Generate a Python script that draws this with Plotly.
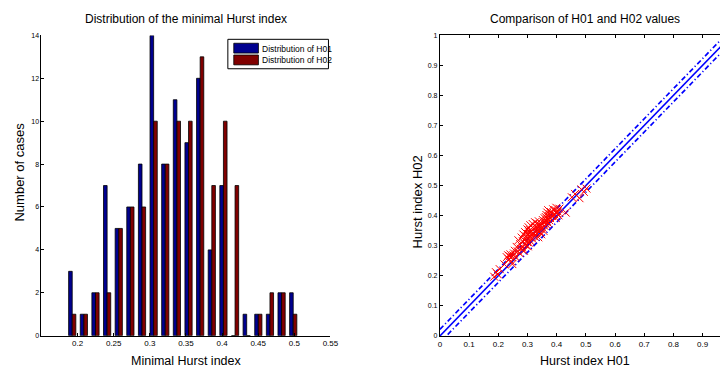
import plotly.graph_objects as go

# ---------------- data ----------------
bin_centers = [0.1926, 0.2087, 0.2248, 0.2409, 0.2570, 0.2731, 0.2892, 0.3053,
               0.3214, 0.3375, 0.3536, 0.3697, 0.3858, 0.4019, 0.4180, 0.4341,
               0.4502, 0.4663, 0.4824, 0.4985]
counts_h01 = [3, 1, 2, 7, 5, 6, 8, 14, 8, 11, 9, 12, 4, 7, 0, 1, 1, 1, 2, 2]
counts_h02 = [1, 1, 2, 2, 5, 6, 6, 10, 8, 10, 10, 13, 7, 10, 7, 0, 1, 2, 2, 1]

h01 = [0.186, 0.192, 0.198, 0.205, 0.221, 0.229,
       0.234, 0.236, 0.239, 0.242, 0.244, 0.246, 0.248,
       0.251, 0.254, 0.257, 0.260, 0.263,
       0.267, 0.269, 0.272, 0.275, 0.277, 0.280,
       0.282, 0.284, 0.286, 0.288, 0.290, 0.292, 0.294, 0.296,
       0.298, 0.299, 0.300, 0.301, 0.302, 0.303, 0.304, 0.305, 0.306, 0.307, 0.308, 0.309, 0.310, 0.312,
       0.314, 0.316, 0.318, 0.320, 0.322, 0.324, 0.326, 0.328,
       0.330, 0.331, 0.333, 0.334, 0.336, 0.337, 0.339, 0.340, 0.341, 0.342, 0.344,
       0.347, 0.349, 0.351, 0.353, 0.355, 0.356, 0.358, 0.359, 0.361,
       0.363, 0.364, 0.365, 0.366, 0.368, 0.369, 0.370, 0.371, 0.373, 0.374, 0.376, 0.377,
       0.380, 0.384, 0.388, 0.392,
       0.395, 0.397, 0.399, 0.401, 0.403, 0.406, 0.409,
       0.431, 0.452, 0.463, 0.478, 0.485, 0.493, 0.502]
h02 = [0.197, 0.212, 0.205, 0.222, 0.238, 0.262,
       0.268, 0.255, 0.265, 0.271, 0.248, 0.262, 0.239,
       0.268, 0.274, 0.283, 0.262, 0.296,
       0.281, 0.318, 0.276, 0.305, 0.290, 0.327,
       0.294, 0.315, 0.337, 0.283, 0.306, 0.345, 0.322, 0.300,
       0.331, 0.312, 0.354, 0.298, 0.339, 0.322, 0.361, 0.310, 0.344, 0.329, 0.352, 0.316, 0.368, 0.335,
       0.347, 0.324, 0.372, 0.339, 0.356, 0.331, 0.378, 0.345,
       0.362, 0.341, 0.374, 0.350, 0.358, 0.328, 0.381, 0.366, 0.347, 0.370, 0.356,
       0.338, 0.372, 0.360, 0.385, 0.349, 0.377, 0.366, 0.391, 0.380,
       0.395, 0.371, 0.402, 0.383, 0.410, 0.389, 0.376, 0.418, 0.398, 0.385, 0.405, 0.392,
       0.412, 0.399, 0.421, 0.404,
       0.417, 0.392, 0.426, 0.408, 0.414, 0.401, 0.423,
       0.410, 0.461, 0.472, 0.458, 0.487, 0.479, 0.490]

diag_x = [0.0, 1.0]
band_offset = 0.022

left_xticks = [0.2, 0.25, 0.3, 0.35, 0.4, 0.45, 0.5, 0.55]
left_xtick_text = ["0.2", "0.25", "0.3", "0.35", "0.4", "0.45", "0.5", "0.55"]
left_yticks = [0, 2, 4, 6, 8, 10, 12, 14]
right_ticks = [0, 0.1, 0.2, 0.3, 0.4, 0.5, 0.6, 0.7, 0.8, 0.9, 1.0]
right_tick_text = ["0", "0.1", "0.2", "0.3", "0.4", "0.5", "0.6", "0.7", "0.8", "0.9", "1"]

# ---------------- figure ----------------
W, H = 728, 374
FONT = "Liberation Sans, Arial, sans-serif"
BLUE_BAR = "#00008f"
RED_BAR = "#800000"

def px(x):
    return x / W

def py(y):
    return 1 - y / H

fig = go.Figure()

fig.add_trace(go.Bar(x=bin_centers, y=counts_h01, name="Distribution of H01",
                     marker=dict(color=BLUE_BAR, line=dict(color="black", width=0.8)),
                     xaxis="x", yaxis="y", showlegend=False))
fig.add_trace(go.Bar(x=bin_centers, y=counts_h02, name="Distribution of H02",
                     marker=dict(color=RED_BAR, line=dict(color="black", width=0.8)),
                     xaxis="x", yaxis="y", showlegend=False))

upper = [v + band_offset for v in diag_x]
lower = [v - band_offset for v in diag_x]
DASH = "5px,2.5px,1.2px,2.5px"
fig.add_trace(go.Scatter(x=diag_x, y=upper, mode="lines",
                         line=dict(color="#0000ff", width=1.7, dash=DASH),
                         xaxis="x2", yaxis="y2", showlegend=False))
fig.add_trace(go.Scatter(x=diag_x, y=lower, mode="lines",
                         line=dict(color="#0000ff", width=1.7, dash=DASH),
                         xaxis="x2", yaxis="y2", showlegend=False))
fig.add_trace(go.Scatter(x=diag_x, y=diag_x, mode="lines",
                         line=dict(color="#0000ff", width=1.6),
                         xaxis="x2", yaxis="y2", showlegend=False))
fig.add_trace(go.Scatter(x=h01, y=h02, mode="markers",
                         marker=dict(symbol="x-thin", size=8, color="red",
                                     line=dict(color="red", width=1)),
                         xaxis="x2", yaxis="y2", showlegend=False))

tickfont = dict(family=FONT, size=8, color="black")

fig.update_layout(
    width=W, height=H,
    margin=dict(l=0, r=0, t=0, b=0),
    paper_bgcolor="white", plot_bgcolor="white",
    barmode="group", bargap=0.38, bargroupgap=0.0,
    font=dict(family=FONT, color="black"),
    xaxis=dict(domain=[px(40), px(333)], range=[0.15, 0.55], anchor="y",
               tickvals=left_xticks, ticktext=left_xtick_text,
               ticks="inside", ticklen=3, tickcolor="black",
               showline=True, linecolor="black", linewidth=1,
               showgrid=False, zeroline=False, tickfont=tickfont),
    yaxis=dict(domain=[py(338), py(32)], range=[0, 14], anchor="x",
               tickvals=left_yticks,
               ticks="inside", ticklen=3, tickcolor="black",
               showline=True, linecolor="black", linewidth=1,
               showgrid=False, zeroline=False, tickfont=dict(family=FONT, size=7, color="black")),
    xaxis2=dict(domain=[px(444), 1.0], range=[0, (728 - 444) / 296.0], anchor="y2",
                tickvals=right_ticks, ticktext=right_tick_text,
                ticks="inside", ticklen=3, tickcolor="black",
                showline=True, linecolor="black", linewidth=1, mirror="ticks",
                showgrid=False, zeroline=False, tickfont=tickfont),
    yaxis2=dict(domain=[py(338.3), py(31.7)], range=[0, 1], anchor="x2",
                tickvals=right_ticks, ticktext=right_tick_text,
                ticks="inside", ticklen=3, tickcolor="black",
                showline=True, linecolor="black", linewidth=1,
                showgrid=False, zeroline=False, tickfont=dict(family=FONT, size=7, color="black")),
)

annotations = [
    dict(text="Distribution of the minimal Hurst index", x=px(187), y=py(15),
         font=dict(size=12)),
    dict(text="Minimal Hurst index", x=px(187), y=py(364), font=dict(size=12.5)),
    dict(text="Number of cases", x=px(18), y=py(171), font=dict(size=13), textangle=-90),
    dict(text="Comparison of H01 and H02 values", x=px(591), y=py(15), font=dict(size=12)),
    dict(text="Hurst index H01", x=px(591), y=py(364), font=dict(size=12.5)),
    dict(text="Hurst index H02", x=px(421), y=py(202), font=dict(size=13), textangle=-90),
    dict(text="Distribution of H01", x=px(262), y=py(45.5), xanchor="left",
         font=dict(size=8.5)),
    dict(text="Distribution of H02", x=px(262), y=py(57.5), xanchor="left",
         font=dict(size=8.5)),
]
for a in annotations:
    a.setdefault("xanchor", "center")
    a.update(xref="paper", yref="paper", yanchor="middle", showarrow=False)
    a["font"] = dict(family=FONT, color="black", size=a["font"]["size"])
fig.update_layout(annotations=annotations)

shapes = [
    dict(type="rect", x0=px(229), x1=px(331), y0=py(66), y1=py(36),
         line=dict(color="black", width=1), fillcolor="white", layer="above"),
    dict(type="rect", x0=px(235), x1=px(260), y0=py(50), y1=py(40),
         line=dict(color="black", width=0.8), fillcolor=BLUE_BAR, layer="above"),
    dict(type="rect", x0=px(235), x1=px(260), y0=py(62), y1=py(52),
         line=dict(color="black", width=0.8), fillcolor=RED_BAR, layer="above"),
]
for s in shapes:
    s.update(xref="paper", yref="paper")
fig.update_layout(shapes=shapes)

fig.write_html("out.html")
